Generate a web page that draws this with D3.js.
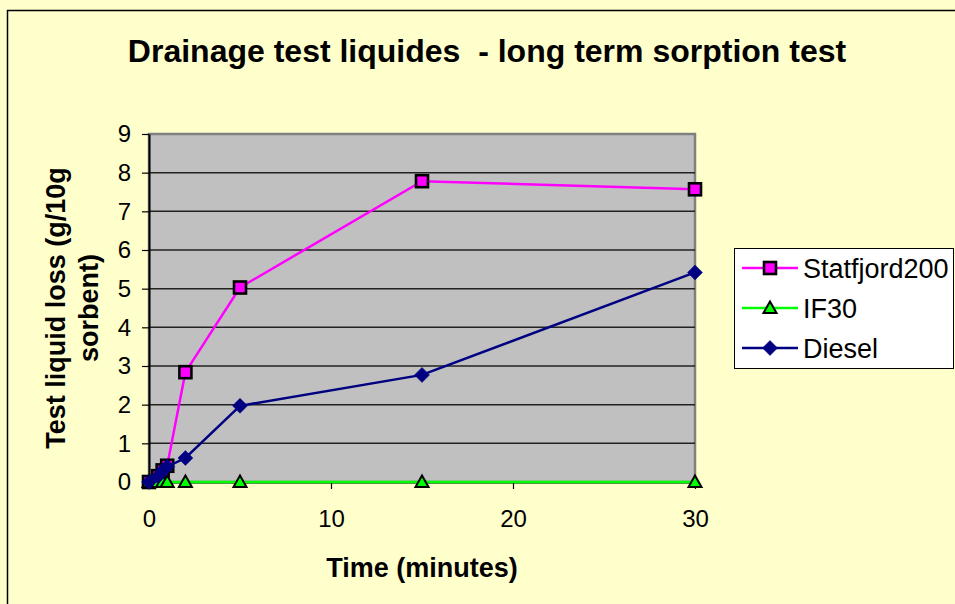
<!DOCTYPE html>
<html>
<head>
<meta charset="utf-8">
<script src="https://cdn.jsdelivr.net/npm/d3@7"></script>
<style>
  body { margin: 0; background: #ffffcc; }
  svg { display: block; font-family: Arial, "Liberation Sans", sans-serif; }
</style>
</head>
<body>
<svg id="chart" width="955" height="604"></svg>
<script>
// sampling times (minutes)
const times = [0, 0.5, 0.75, 1, 2, 5, 15, 30];
const statfjord = [0, 0.15, 0.3, 0.42, 2.84, 5.03, 7.78, 7.57];
const if30 = [0, 0, 0, 0, 0, 0, 0, 0];
const diesel = [0, 0.15, 0.3, 0.4, 0.62, 1.97, 2.77, 5.42];
const xTicks = [0, 10, 20, 30];
const yTicks = [0, 1, 2, 3, 4, 5, 6, 7, 8, 9];

const series = [
    { name: 'Statfjord200', values: statfjord, color: '#ff00ff', marker: 'square' },
    { name: 'IF30', values: if30, color: '#00ff00', marker: 'triangle' },
    { name: 'Diesel', values: diesel, color: '#000080', marker: 'diamond' },
];

const svg = d3.select('#chart');
const plot = { left: 149, top: 134, right: 695, bottom: 482 };

// outer chart frame, runs off the right and bottom edges
svg.append('rect')
    .attr('x', 7.5).attr('y', 10.5).attr('width', 970).attr('height', 620)
    .attr('fill', '#ffffcc').attr('stroke', '#000').attr('stroke-width', 1.5);

svg.append('text')
    .attr('x', 487).attr('y', 62)
    .attr('text-anchor', 'middle')
    .attr('font-size', 32).attr('font-weight', 'bold')
    .attr('xml:space', 'preserve')
    .text('Drainage test liquides  - long term sorption test');

const x = d3.scaleLinear().domain([0, 30]).range([plot.left, plot.right]);
const y = d3.scaleLinear().domain([0, 9]).range([plot.bottom, plot.top]);

// plot area
svg.append('rect')
    .attr('x', plot.left).attr('y', plot.top)
    .attr('width', plot.right - plot.left).attr('height', plot.bottom - plot.top)
    .attr('fill', '#c0c0c0').attr('stroke', '#808080').attr('stroke-width', 2.5);

svg.append('g').selectAll('line').data(yTicks.slice(1, -1)).join('line')
    .attr('x1', plot.left).attr('x2', plot.right)
    .attr('y1', (d) => y(d)).attr('y2', (d) => y(d))
    .attr('stroke', '#222').attr('stroke-width', 1.5);

const yAxis = svg.append('g')
    .attr('transform', `translate(${plot.left},0)`)
    .call(d3.axisLeft(y).tickValues(yTicks).tickSize(7).tickPadding(11).tickSizeOuter(0));
const xAxis = svg.append('g')
    .attr('transform', `translate(0,${plot.bottom})`)
    .call(d3.axisBottom(x).tickValues(xTicks).tickSize(7).tickPadding(21).tickSizeOuter(0));
[xAxis, yAxis].forEach((a) => {
    a.select('.domain').attr('stroke', '#000').attr('stroke-width', 2);
    a.selectAll('.tick line').attr('stroke', '#000').attr('stroke-width', 1.2);
    a.selectAll('.tick text').attr('font-size', 24).attr('fill', '#000')
        .attr('font-family', 'Arial, "Liberation Sans", sans-serif');
});

svg.append('text')
    .attr('x', 422).attr('y', 577)
    .attr('text-anchor', 'middle')
    .attr('font-size', 27).attr('font-weight', 'bold')
    .text('Time (minutes)');

const yTitle = svg.append('text')
    .attr('transform', 'translate(65,308) rotate(-90)')
    .attr('text-anchor', 'middle')
    .attr('font-size', 27).attr('font-weight', 'bold');
yTitle.append('tspan').attr('x', 0).attr('dy', 0).text('Test liquid loss (g/10g');
yTitle.append('tspan').attr('x', 0).attr('dy', 33).text('sorbent)');

function drawMarker(g, kind, color, cx, cy) {
    if (kind === 'square') {
        g.append('rect')
            .attr('x', cx - 6).attr('y', cy - 6).attr('width', 12).attr('height', 12)
            .attr('fill', color).attr('stroke', '#000').attr('stroke-width', 2.6);
    } else if (kind === 'triangle') {
        g.append('path')
            .attr('d', `M${cx},${cy - 6.5}L${cx + 6.5},${cy + 5}L${cx - 6.5},${cy + 5}Z`)
            .attr('fill', color).attr('stroke', '#000').attr('stroke-width', 2);
    } else {
        g.append('path')
            .attr('d', `M${cx},${cy - 7.5}L${cx + 7.5},${cy}L${cx},${cy + 7.5}L${cx - 7.5},${cy}Z`)
            .attr('fill', color).attr('stroke', color).attr('stroke-width', 0.5);
    }
}

const line = d3.line().x((d, i) => x(times[i])).y((d) => y(d));
series.forEach((s) => {
    const g = svg.append('g');
    g.append('path').datum(s.values)
        .attr('d', line)
        .attr('fill', 'none').attr('stroke', s.color).attr('stroke-width', 2.5);
    s.values.forEach((v, i) => drawMarker(g, s.marker, s.color, x(times[i]), y(v)));
});

// legend
const legend = svg.append('g');
legend.append('rect')
    .attr('x', 734.5).attr('y', 248.5).attr('width', 219).attr('height', 120)
    .attr('fill', '#fff').attr('stroke', '#000').attr('stroke-width', 1);
series.forEach((s, i) => {
    const ly = 268 + i * 40;
    legend.append('line')
        .attr('x1', 742).attr('x2', 798).attr('y1', ly).attr('y2', ly)
        .attr('stroke', s.color).attr('stroke-width', 2.5);
    drawMarker(legend, s.marker, s.color, 770, ly);
    legend.append('text')
        .attr('x', 803).attr('y', ly + 9.5)
        .attr('font-size', 27)
        .text(s.name);
});
</script>
</body>
</html>
